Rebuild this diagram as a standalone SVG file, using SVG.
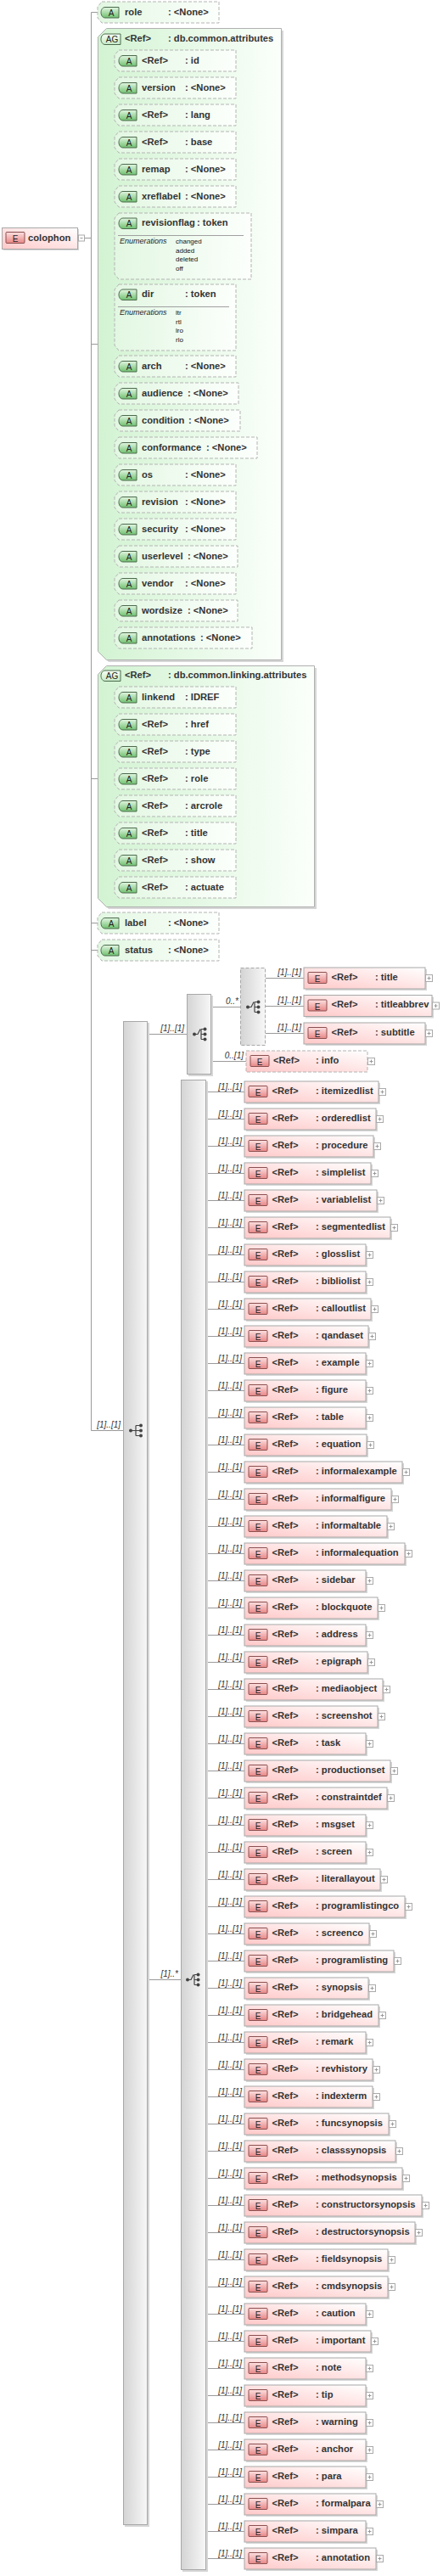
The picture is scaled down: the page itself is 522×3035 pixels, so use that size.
<svg xmlns="http://www.w3.org/2000/svg" xmlns:xlink="http://www.w3.org/1999/xlink" width="522" height="3035" viewBox="0 0 522 3035">
<style>
.ln{stroke:#9a9a9a;stroke-width:1;fill:none}
.m{font:italic 10px "Liberation Sans",Arial,sans-serif;fill:#333;text-anchor:end}
.t{font:bold 11.2px "Liberation Sans",Arial,sans-serif;fill:#333}
.at{fill:url(#gAt);stroke:#b4b4b4;stroke-dasharray:4 2}
.ag{fill:url(#gAG);stroke:#b0b0b0}
.ab{fill:url(#gAb);stroke:#4d6b4d}
.agb{fill:url(#gAGb);stroke:#4d6b4d}
.bt{font:10px "Liberation Sans",Arial,sans-serif;fill:#222;text-anchor:middle}
.eb{fill:url(#gE);stroke:#a8a8a8}
.ed{fill:url(#gE);stroke:#b4b4b4;stroke-dasharray:4 2}
.sh{fill:#d6d6d6}
.ebad{fill:url(#gEb);stroke:#8a4f4f}
.cmp{fill:url(#gC);stroke:#a8a8a8}
.cmpd{fill:url(#gC);stroke:#a8a8a8;stroke-dasharray:4 2}
.en{font:italic 9px "Liberation Sans",Arial,sans-serif;fill:#222}
.ev{font:8px "Liberation Sans",Arial,sans-serif;fill:#111}
.ic{fill:#444}
.icl{stroke:#444;stroke-width:1.2;fill:none}
.dv{stroke:#a0a0a0}
</style>
<defs>
<linearGradient id="gAt" x1="0" y1="0" x2="1" y2="0"><stop offset="0" stop-color="#e2f7e2"/><stop offset="1" stop-color="#fcfffc"/></linearGradient>
<linearGradient id="gAG" x1="0" y1="0" x2="1" y2="0"><stop offset="0" stop-color="#d2f3d2"/><stop offset="1" stop-color="#fbfffb"/></linearGradient>
<linearGradient id="gAb" x1="0" y1="0" x2="0" y2="1"><stop offset="0" stop-color="#e2f6e2"/><stop offset="1" stop-color="#6fc06f"/></linearGradient>
<linearGradient id="gAGb" x1="0" y1="0" x2="0" y2="1"><stop offset="0" stop-color="#f6fff6"/><stop offset="1" stop-color="#c6eac6"/></linearGradient>
<linearGradient id="gE" x1="0" y1="1" x2="1" y2="0"><stop offset="0" stop-color="#ffc8c8"/><stop offset="1" stop-color="#ffffff"/></linearGradient>
<linearGradient id="gEb" x1="0" y1="0" x2="0" y2="1"><stop offset="0" stop-color="#fde0e0"/><stop offset="1" stop-color="#e88686"/></linearGradient>
<linearGradient id="gC" x1="0" y1="0" x2="1" y2="0"><stop offset="0" stop-color="#d4d4d4"/><stop offset="1" stop-color="#f7f7f7"/></linearGradient>
<rect id="bE" width="22" height="13" rx="1" class="ebad"/>
<path id="bA" d="M5,0 H21 V12.5 H5 C1.5,12.5 0,9 0,6.25 C0,3.5 1.5,0 5,0 Z" class="ab"/>
<path id="bAG" d="M5,0 H23 V12.5 H5 C1.5,12.5 0,9 0,6.25 C0,3.5 1.5,0 5,0 Z" class="agb"/>
<g id="plus"><rect x="0.5" y="0.5" width="8" height="8" fill="#fff" stroke="#aaa"/><path d="M2.5 4.5 H6.5 M4.5 2.5 V6.5" stroke="#999"/></g>
</defs>
<rect width="522" height="3035" fill="#fff"/>

<g id="connectors">
<path class="ln" d="M107.5 14.5 V1685.5 M107.5 14.5 H115 M99 280.5 H107.5 M107.5 405.5 H126.5 M107.5 917.5 H126.5 M107.5 1087.5 H115 M107.5 1119.5 H115 M107.5 1685.5 H145
M126.5 71.5 V751.5 M126.5 71.5 H135 M126.5 103.5 H135 M126.5 135.5 H135 M126.5 167.5 H135 M126.5 199.5 H135 M126.5 231.5 H135 M126.5 290.5 H135 M126.5 374.5 H135 M126.5 431.5 H135 M126.5 463.5 H135 M126.5 495.5 H135 M126.5 527.5 H135 M126.5 559.5 H135 M126.5 591.5 H135 M126.5 623.5 H135 M126.5 655.5 H135 M126.5 687.5 H135 M126.5 719.5 H135 M126.5 751.5 H135
M126.5 821.5 V1045.5 M126.5 821.5 H135 M126.5 853.5 H135 M126.5 885.5 H135 M126.5 917.5 H135 M126.5 949.5 H135 M126.5 981.5 H135 M126.5 1013.5 H135 M126.5 1045.5 H135
M174 1218.5 H220 M174 2332.5 H213 M249 1186.5 H283 M249 1250.5 H290 M313 1152.5 H358 M313 1185.5 H358 M313 1217.5 H358"/>
<path class="ln" d="M243 1286.5 H288 M243 1318.5 H288 M243 1350.5 H288 M243 1382.5 H288 M243 1414.5 H288 M243 1446.5 H288 M243 1478.5 H288 M243 1510.5 H288 M243 1542.5 H288 M243 1574.5 H288 M243 1606.5 H288 M243 1638.5 H288 M243 1670.5 H288 M243 1702.5 H288 M243 1734.5 H288 M243 1766.5 H288 M243 1798.5 H288 M243 1830.5 H288 M243 1862.5 H288 M243 1894.5 H288 M243 1926.5 H288 M243 1958.5 H288 M243 1990.5 H288 M243 2022.5 H288 M243 2054.5 H288 M243 2086.5 H288 M243 2118.5 H288 M243 2150.5 H288 M243 2182.5 H288 M243 2214.5 H288 M243 2246.5 H288 M243 2278.5 H288 M243 2310.5 H288 M243 2342.5 H288 M243 2374.5 H288 M243 2406.5 H288 M243 2438.5 H288 M243 2470.5 H288 M243 2502.5 H288 M243 2534.5 H288 M243 2566.5 H288 M243 2598.5 H288 M243 2630.5 H288 M243 2662.5 H288 M243 2694.5 H288 M243 2726.5 H288 M243 2758.5 H288 M243 2790.5 H288 M243 2822.5 H288 M243 2854.5 H288 M243 2886.5 H288 M243 2918.5 H288 M243 2950.5 H288 M243 2982.5 H288 M243 3014.5 H288"/>
<text class="m" x="142" y="1682">[1]..[1]</text>
<text class="m" x="217" y="1215">[1]..[1]</text>
<text class="m" x="210" y="2329">[1]..*</text>
<text class="m" x="281" y="1183">0..*</text>
<text class="m" x="287" y="1247">0..[1]</text>
<text class="m" x="355" y="1149">[1]..[1]</text>
<text class="m" x="355" y="1182">[1]..[1]</text>
<text class="m" x="355" y="1214">[1]..[1]</text>
<text class="m" x="285" y="1283.5">[1]..[1]</text>
<text class="m" x="285" y="1315.5">[1]..[1]</text>
<text class="m" x="285" y="1347.5">[1]..[1]</text>
<text class="m" x="285" y="1379.5">[1]..[1]</text>
<text class="m" x="285" y="1411.5">[1]..[1]</text>
<text class="m" x="285" y="1443.5">[1]..[1]</text>
<text class="m" x="285" y="1475.5">[1]..[1]</text>
<text class="m" x="285" y="1507.5">[1]..[1]</text>
<text class="m" x="285" y="1539.5">[1]..[1]</text>
<text class="m" x="285" y="1571.5">[1]..[1]</text>
<text class="m" x="285" y="1603.5">[1]..[1]</text>
<text class="m" x="285" y="1635.5">[1]..[1]</text>
<text class="m" x="285" y="1667.5">[1]..[1]</text>
<text class="m" x="285" y="1699.5">[1]..[1]</text>
<text class="m" x="285" y="1731.5">[1]..[1]</text>
<text class="m" x="285" y="1763.5">[1]..[1]</text>
<text class="m" x="285" y="1795.5">[1]..[1]</text>
<text class="m" x="285" y="1827.5">[1]..[1]</text>
<text class="m" x="285" y="1859.5">[1]..[1]</text>
<text class="m" x="285" y="1891.5">[1]..[1]</text>
<text class="m" x="285" y="1923.5">[1]..[1]</text>
<text class="m" x="285" y="1955.5">[1]..[1]</text>
<text class="m" x="285" y="1987.5">[1]..[1]</text>
<text class="m" x="285" y="2019.5">[1]..[1]</text>
<text class="m" x="285" y="2051.5">[1]..[1]</text>
<text class="m" x="285" y="2083.5">[1]..[1]</text>
<text class="m" x="285" y="2115.5">[1]..[1]</text>
<text class="m" x="285" y="2147.5">[1]..[1]</text>
<text class="m" x="285" y="2179.5">[1]..[1]</text>
<text class="m" x="285" y="2211.5">[1]..[1]</text>
<text class="m" x="285" y="2243.5">[1]..[1]</text>
<text class="m" x="285" y="2275.5">[1]..[1]</text>
<text class="m" x="285" y="2307.5">[1]..[1]</text>
<text class="m" x="285" y="2339.5">[1]..[1]</text>
<text class="m" x="285" y="2371.5">[1]..[1]</text>
<text class="m" x="285" y="2403.5">[1]..[1]</text>
<text class="m" x="285" y="2435.5">[1]..[1]</text>
<text class="m" x="285" y="2467.5">[1]..[1]</text>
<text class="m" x="285" y="2499.5">[1]..[1]</text>
<text class="m" x="285" y="2531.5">[1]..[1]</text>
<text class="m" x="285" y="2563.5">[1]..[1]</text>
<text class="m" x="285" y="2595.5">[1]..[1]</text>
<text class="m" x="285" y="2627.5">[1]..[1]</text>
<text class="m" x="285" y="2659.5">[1]..[1]</text>
<text class="m" x="285" y="2691.5">[1]..[1]</text>
<text class="m" x="285" y="2723.5">[1]..[1]</text>
<text class="m" x="285" y="2755.5">[1]..[1]</text>
<text class="m" x="285" y="2787.5">[1]..[1]</text>
<text class="m" x="285" y="2819.5">[1]..[1]</text>
<text class="m" x="285" y="2851.5">[1]..[1]</text>
<text class="m" x="285" y="2883.5">[1]..[1]</text>
<text class="m" x="285" y="2915.5">[1]..[1]</text>
<text class="m" x="285" y="2947.5">[1]..[1]</text>
<text class="m" x="285" y="2979.5">[1]..[1]</text>
<text class="m" x="285" y="3011.5">[1]..[1]</text>
</g>

<g id="colophon" transform="translate(0,280.5)">
<rect class="sh" x="4" y="-10.5" width="89" height="25"/>
<rect class="eb" x="2.5" y="-12" width="89" height="25"/>
<use href="#bE" x="7" y="-7"/><text class="bt" x="18" y="4.5">E</text>
<text class="t" x="33" y="3">colophon</text>
<rect x="92.5" y="-3.5" width="7" height="7" fill="#fff" stroke="#aaa"/><path d="M94.5 0 H97.5" stroke="#999"/>
</g>

<g id="a-role" transform="translate(0,14.5)">
<path class="at" d="M120,-12.5 H258 V12.5 H120 L115,6.5 V-6.5 Z"/>
<use href="#bA" x="119" y="-6"/><text class="bt" x="131" y="4">A</text>
<text class="t" x="147" y="3">role</text><text class="t" x="198" y="3">: &lt;None&gt;</text>
</g>

<g id="ag-common">
<path class="sh" d="M128,36 H334 V780 H128 L118,770 V46 Z"/>
<path class="ag" d="M125.5,33.5 H331.5 V777.5 H125.5 L115.5,767.5 V43.5 Z"/>
<use href="#bAG" x="119" y="40"/><text class="bt" x="132" y="50">AG</text>
<text class="t" x="147" y="49">&lt;Ref&gt;</text><text class="t" x="198" y="49">: db.common.attributes</text>
</g>
<g id="a-id" transform="translate(0,71.5)"><path class="at" d="M140,-12.5 H278 V12.5 H140 L135,6.5 V-6.5 Z"/><use href="#bA" x="140" y="-6"/><text class="bt" x="152" y="4">A</text><text class="t" x="167" y="3">&lt;Ref&gt;</text><text class="t" x="218" y="3">: id</text></g>
<g id="a-version" transform="translate(0,103.5)"><path class="at" d="M140,-12.5 H278 V12.5 H140 L135,6.5 V-6.5 Z"/><use href="#bA" x="140" y="-6"/><text class="bt" x="152" y="4">A</text><text class="t" x="167" y="3">version</text><text class="t" x="218" y="3">: &lt;None&gt;</text></g>
<g id="a-lang" transform="translate(0,135.5)"><path class="at" d="M140,-12.5 H278 V12.5 H140 L135,6.5 V-6.5 Z"/><use href="#bA" x="140" y="-6"/><text class="bt" x="152" y="4">A</text><text class="t" x="167" y="3">&lt;Ref&gt;</text><text class="t" x="218" y="3">: lang</text></g>
<g id="a-base" transform="translate(0,167.5)"><path class="at" d="M140,-12.5 H278 V12.5 H140 L135,6.5 V-6.5 Z"/><use href="#bA" x="140" y="-6"/><text class="bt" x="152" y="4">A</text><text class="t" x="167" y="3">&lt;Ref&gt;</text><text class="t" x="218" y="3">: base</text></g>
<g id="a-remap" transform="translate(0,199.5)"><path class="at" d="M140,-12.5 H278 V12.5 H140 L135,6.5 V-6.5 Z"/><use href="#bA" x="140" y="-6"/><text class="bt" x="152" y="4">A</text><text class="t" x="167" y="3">remap</text><text class="t" x="218" y="3">: &lt;None&gt;</text></g>
<g id="a-xreflabel" transform="translate(0,231.5)"><path class="at" d="M140,-12.5 H278 V12.5 H140 L135,6.5 V-6.5 Z"/><use href="#bA" x="140" y="-6"/><text class="bt" x="152" y="4">A</text><text class="t" x="167" y="3">xreflabel</text><text class="t" x="218" y="3">: &lt;None&gt;</text></g>
<g id="a-revisionflag">
<path class="at" d="M140,251 H296 V329 H140 L135,323 V257 Z"/>
<use href="#bA" x="140" y="257"/><text class="bt" x="152" y="267">A</text>
<text class="t" x="167" y="266">revisionflag</text><text class="t" x="232" y="266">: token</text>
<path class="dv" d="M139 277.5 H287"/>
<text class="en" x="141" y="287">Enumerations</text>
<text class="ev" x="207" y="287">changed</text><text class="ev" x="207" y="297.5">added</text><text class="ev" x="207" y="308">deleted</text><text class="ev" x="207" y="318.5">off</text>
</g>
<g id="a-dir">
<path class="at" d="M140,335 H278 V413 H140 L135,407 V341 Z"/>
<use href="#bA" x="140" y="341"/><text class="bt" x="152" y="351">A</text>
<text class="t" x="167" y="350">dir</text><text class="t" x="218" y="350">: token</text>
<path class="dv" d="M139 361.5 H270"/>
<text class="en" x="141" y="371">Enumerations</text>
<text class="ev" x="207" y="371">ltr</text><text class="ev" x="207" y="381.5">rtl</text><text class="ev" x="207" y="392">lro</text><text class="ev" x="207" y="402.5">rlo</text>
</g>
<g id="a-arch" transform="translate(0,431.5)"><path class="at" d="M140,-12.5 H278 V12.5 H140 L135,6.5 V-6.5 Z"/><use href="#bA" x="140" y="-6"/><text class="bt" x="152" y="4">A</text><text class="t" x="167" y="3">arch</text><text class="t" x="218" y="3">: &lt;None&gt;</text></g>
<g id="a-audience" transform="translate(0,463.5)"><path class="at" d="M140,-12.5 H281 V12.5 H140 L135,6.5 V-6.5 Z"/><use href="#bA" x="140" y="-6"/><text class="bt" x="152" y="4">A</text><text class="t" x="167" y="3">audience</text><text class="t" x="221" y="3">: &lt;None&gt;</text></g>
<g id="a-condition" transform="translate(0,495.5)"><path class="at" d="M140,-12.5 H283 V12.5 H140 L135,6.5 V-6.5 Z"/><use href="#bA" x="140" y="-6"/><text class="bt" x="152" y="4">A</text><text class="t" x="167" y="3">condition</text><text class="t" x="222" y="3">: &lt;None&gt;</text></g>
<g id="a-conformance" transform="translate(0,527.5)"><path class="at" d="M140,-12.5 H303 V12.5 H140 L135,6.5 V-6.5 Z"/><use href="#bA" x="140" y="-6"/><text class="bt" x="152" y="4">A</text><text class="t" x="167" y="3">conformance</text><text class="t" x="243" y="3">: &lt;None&gt;</text></g>
<g id="a-os" transform="translate(0,559.5)"><path class="at" d="M140,-12.5 H278 V12.5 H140 L135,6.5 V-6.5 Z"/><use href="#bA" x="140" y="-6"/><text class="bt" x="152" y="4">A</text><text class="t" x="167" y="3">os</text><text class="t" x="218" y="3">: &lt;None&gt;</text></g>
<g id="a-revision" transform="translate(0,591.5)"><path class="at" d="M140,-12.5 H278 V12.5 H140 L135,6.5 V-6.5 Z"/><use href="#bA" x="140" y="-6"/><text class="bt" x="152" y="4">A</text><text class="t" x="167" y="3">revision</text><text class="t" x="218" y="3">: &lt;None&gt;</text></g>
<g id="a-security" transform="translate(0,623.5)"><path class="at" d="M140,-12.5 H278 V12.5 H140 L135,6.5 V-6.5 Z"/><use href="#bA" x="140" y="-6"/><text class="bt" x="152" y="4">A</text><text class="t" x="167" y="3">security</text><text class="t" x="218" y="3">: &lt;None&gt;</text></g>
<g id="a-userlevel" transform="translate(0,655.5)"><path class="at" d="M140,-12.5 H280 V12.5 H140 L135,6.5 V-6.5 Z"/><use href="#bA" x="140" y="-6"/><text class="bt" x="152" y="4">A</text><text class="t" x="167" y="3">userlevel</text><text class="t" x="221" y="3">: &lt;None&gt;</text></g>
<g id="a-vendor" transform="translate(0,687.5)"><path class="at" d="M140,-12.5 H278 V12.5 H140 L135,6.5 V-6.5 Z"/><use href="#bA" x="140" y="-6"/><text class="bt" x="152" y="4">A</text><text class="t" x="167" y="3">vendor</text><text class="t" x="218" y="3">: &lt;None&gt;</text></g>
<g id="a-wordsize" transform="translate(0,719.5)"><path class="at" d="M140,-12.5 H280 V12.5 H140 L135,6.5 V-6.5 Z"/><use href="#bA" x="140" y="-6"/><text class="bt" x="152" y="4">A</text><text class="t" x="167" y="3">wordsize</text><text class="t" x="221" y="3">: &lt;None&gt;</text></g>
<g id="a-annotations" transform="translate(0,751.5)"><path class="at" d="M140,-12.5 H297 V12.5 H140 L135,6.5 V-6.5 Z"/><use href="#bA" x="140" y="-6"/><text class="bt" x="152" y="4">A</text><text class="t" x="167" y="3">annotations</text><text class="t" x="236" y="3">: &lt;None&gt;</text></g>

<g id="ag-linking">
<path class="sh" d="M128,787 H373 V1071 H128 L118,1061 V797 Z"/>
<path class="ag" d="M125.5,784.5 H370.5 V1068.5 H125.5 L115.5,1058.5 V794.5 Z"/>
<use href="#bAG" x="119" y="790"/><text class="bt" x="132" y="800">AG</text>
<text class="t" x="147" y="799">&lt;Ref&gt;</text><text class="t" x="198" y="799">: db.common.linking.attributes</text>
</g>
<g id="a-linkend" transform="translate(0,821.5)"><path class="at" d="M140,-12.5 H278 V12.5 H140 L135,6.5 V-6.5 Z"/><use href="#bA" x="140" y="-6"/><text class="bt" x="152" y="4">A</text><text class="t" x="167" y="3">linkend</text><text class="t" x="218" y="3">: IDREF</text></g>
<g id="a-href" transform="translate(0,853.5)"><path class="at" d="M140,-12.5 H278 V12.5 H140 L135,6.5 V-6.5 Z"/><use href="#bA" x="140" y="-6"/><text class="bt" x="152" y="4">A</text><text class="t" x="167" y="3">&lt;Ref&gt;</text><text class="t" x="218" y="3">: href</text></g>
<g id="a-type" transform="translate(0,885.5)"><path class="at" d="M140,-12.5 H278 V12.5 H140 L135,6.5 V-6.5 Z"/><use href="#bA" x="140" y="-6"/><text class="bt" x="152" y="4">A</text><text class="t" x="167" y="3">&lt;Ref&gt;</text><text class="t" x="218" y="3">: type</text></g>
<g id="a-xrole" transform="translate(0,917.5)"><path class="at" d="M140,-12.5 H278 V12.5 H140 L135,6.5 V-6.5 Z"/><use href="#bA" x="140" y="-6"/><text class="bt" x="152" y="4">A</text><text class="t" x="167" y="3">&lt;Ref&gt;</text><text class="t" x="218" y="3">: role</text></g>
<g id="a-arcrole" transform="translate(0,949.5)"><path class="at" d="M140,-12.5 H278 V12.5 H140 L135,6.5 V-6.5 Z"/><use href="#bA" x="140" y="-6"/><text class="bt" x="152" y="4">A</text><text class="t" x="167" y="3">&lt;Ref&gt;</text><text class="t" x="218" y="3">: arcrole</text></g>
<g id="a-title" transform="translate(0,981.5)"><path class="at" d="M140,-12.5 H278 V12.5 H140 L135,6.5 V-6.5 Z"/><use href="#bA" x="140" y="-6"/><text class="bt" x="152" y="4">A</text><text class="t" x="167" y="3">&lt;Ref&gt;</text><text class="t" x="218" y="3">: title</text></g>
<g id="a-show" transform="translate(0,1013.5)"><path class="at" d="M140,-12.5 H278 V12.5 H140 L135,6.5 V-6.5 Z"/><use href="#bA" x="140" y="-6"/><text class="bt" x="152" y="4">A</text><text class="t" x="167" y="3">&lt;Ref&gt;</text><text class="t" x="218" y="3">: show</text></g>
<g id="a-actuate" transform="translate(0,1045.5)"><path class="at" d="M140,-12.5 H278 V12.5 H140 L135,6.5 V-6.5 Z"/><use href="#bA" x="140" y="-6"/><text class="bt" x="152" y="4">A</text><text class="t" x="167" y="3">&lt;Ref&gt;</text><text class="t" x="218" y="3">: actuate</text></g>

<g id="a-label" transform="translate(0,1087.5)"><path class="at" d="M120,-12.5 H258 V12.5 H120 L115,6.5 V-6.5 Z"/><use href="#bA" x="119" y="-6"/><text class="bt" x="131" y="4">A</text><text class="t" x="147" y="3">label</text><text class="t" x="198" y="3">: &lt;None&gt;</text></g>
<g id="a-status" transform="translate(0,1119.5)"><path class="at" d="M120,-12.5 H258 V12.5 H120 L115,6.5 V-6.5 Z"/><use href="#bA" x="119" y="-6"/><text class="bt" x="131" y="4">A</text><text class="t" x="147" y="3">status</text><text class="t" x="198" y="3">: &lt;None&gt;</text></g>

<g id="seq-main">
<rect class="sh" x="147" y="1205" width="29" height="1772"/>
<rect class="cmp" x="145.5" y="1203.5" width="28" height="1771"/>
<circle class="ic" cx="154" cy="1685.5" r="2"/>
<path class="icl" d="M154 1685.5 H160 M160 1679.5 V1691.5 M160 1679.5 H165 M160 1685.5 H165 M160 1691.5 H165"/>
<circle class="ic" cx="166" cy="1679.5" r="2"/><circle class="ic" cx="166" cy="1685.5" r="2"/><circle class="ic" cx="166" cy="1691.5" r="2"/>
</g>

<g id="choice-head">
<rect class="sh" x="222" y="1173" width="29" height="95"/>
<rect class="cmp" x="220.5" y="1171.5" width="28" height="94"/>
<circle class="ic" cx="229" cy="1218.5" r="2"/>
<path class="icl" d="M229 1218.5 H233 L236 1212.5 M237 1212.5 V1224.5 M237 1212.5 H240 M237 1218.5 H240 M237 1224.5 H240"/>
<circle class="ic" cx="241.5" cy="1212.5" r="2"/><circle class="ic" cx="241.5" cy="1218.5" r="2"/><circle class="ic" cx="241.5" cy="1224.5" r="2"/>
</g>

<g id="choice-title">
<rect class="cmpd" x="283.5" y="1140.5" width="29" height="91"/>
<circle class="ic" cx="292" cy="1186.5" r="2"/>
<path class="icl" d="M292 1186.5 H296 L299 1180.5 M300 1180.5 V1192.5 M300 1180.5 H303 M300 1186.5 H303 M300 1192.5 H303"/>
<circle class="ic" cx="304.5" cy="1180.5" r="2"/><circle class="ic" cx="304.5" cy="1186.5" r="2"/><circle class="ic" cx="304.5" cy="1192.5" r="2"/>
</g>

<g id="e-title" transform="translate(0,1152.5)"><rect class="sh" x="360" y="-10.5" width="143" height="25"/><rect class="eb" x="358" y="-12.5" width="143" height="25"/><use href="#bE" x="363" y="-7"/><text class="bt" x="374" y="4.5">E</text><text class="t" x="390.5" y="2">&lt;Ref&gt;</text><text class="t" x="442" y="2">: title</text><use href="#plus" x="501" y="-4.5"/></g>
<g id="e-titleabbrev" transform="translate(0,1185)"><rect class="sh" x="360" y="-10.5" width="151" height="25"/><rect class="eb" x="358" y="-12.5" width="151" height="25"/><use href="#bE" x="363" y="-7"/><text class="bt" x="374" y="4.5">E</text><text class="t" x="390.5" y="2">&lt;Ref&gt;</text><text class="t" x="442" y="2">: titleabbrev</text><use href="#plus" x="509" y="-4.5"/></g>
<g id="e-subtitle" transform="translate(0,1217.5)"><rect class="sh" x="360" y="-10.5" width="143" height="25"/><rect class="eb" x="358" y="-12.5" width="143" height="25"/><use href="#bE" x="363" y="-7"/><text class="bt" x="374" y="4.5">E</text><text class="t" x="390.5" y="2">&lt;Ref&gt;</text><text class="t" x="442" y="2">: subtitle</text><use href="#plus" x="501" y="-4.5"/></g>
<g id="e-info" transform="translate(0,1250.5)"><rect class="ed" x="290" y="-12.5" width="143" height="25"/><use href="#bE" x="295" y="-7"/><text class="bt" x="306" y="4.5">E</text><text class="t" x="322" y="2">&lt;Ref&gt;</text><text class="t" x="372" y="2">: info</text><use href="#plus" x="433" y="-4.5"/></g>

<g id="choice-body">
<rect class="sh" x="215" y="1274" width="30" height="1756"/>
<rect class="cmp" x="213.5" y="1272.5" width="29" height="1755"/>
<circle class="ic" cx="221" cy="2332.5" r="2"/>
<path class="icl" d="M221 2332.5 H225 L228 2326.5 M229 2326.5 V2338.5 M229 2326.5 H232 M229 2332.5 H232 M229 2338.5 H232"/>
<circle class="ic" cx="233.5" cy="2326.5" r="2"/><circle class="ic" cx="233.5" cy="2332.5" r="2"/><circle class="ic" cx="233.5" cy="2338.5" r="2"/>
</g>

<g id="e-itemizedlist" transform="translate(0,1286.5)"><rect class="sh" x="290" y="-10.5" width="158" height="25"/><rect class="eb" x="288" y="-12.5" width="158" height="25"/><use href="#bE" x="293" y="-7"/><text class="bt" x="304" y="4.5">E</text><text class="t" x="320.5" y="2">&lt;Ref&gt;</text><text class="t" x="372" y="2">: itemizedlist</text><use href="#plus" x="446" y="-4.5"/></g>
<g id="e-orderedlist" transform="translate(0,1318.5)"><rect class="sh" x="290" y="-10.5" width="155" height="25"/><rect class="eb" x="288" y="-12.5" width="155" height="25"/><use href="#bE" x="293" y="-7"/><text class="bt" x="304" y="4.5">E</text><text class="t" x="320.5" y="2">&lt;Ref&gt;</text><text class="t" x="372" y="2">: orderedlist</text><use href="#plus" x="443" y="-4.5"/></g>
<g id="e-procedure" transform="translate(0,1350.5)"><rect class="sh" x="290" y="-10.5" width="152" height="25"/><rect class="eb" x="288" y="-12.5" width="152" height="25"/><use href="#bE" x="293" y="-7"/><text class="bt" x="304" y="4.5">E</text><text class="t" x="320.5" y="2">&lt;Ref&gt;</text><text class="t" x="372" y="2">: procedure</text><use href="#plus" x="440" y="-4.5"/></g>
<g id="e-simplelist" transform="translate(0,1382.5)"><rect class="sh" x="290" y="-10.5" width="149" height="25"/><rect class="eb" x="288" y="-12.5" width="149" height="25"/><use href="#bE" x="293" y="-7"/><text class="bt" x="304" y="4.5">E</text><text class="t" x="320.5" y="2">&lt;Ref&gt;</text><text class="t" x="372" y="2">: simplelist</text><use href="#plus" x="437" y="-4.5"/></g>
<g id="e-variablelist" transform="translate(0,1414.5)"><rect class="sh" x="290" y="-10.5" width="156" height="25"/><rect class="eb" x="288" y="-12.5" width="156" height="25"/><use href="#bE" x="293" y="-7"/><text class="bt" x="304" y="4.5">E</text><text class="t" x="320.5" y="2">&lt;Ref&gt;</text><text class="t" x="372" y="2">: variablelist</text><use href="#plus" x="444" y="-4.5"/></g>
<g id="e-segmentedlist" transform="translate(0,1446.5)"><rect class="sh" x="290" y="-10.5" width="172" height="25"/><rect class="eb" x="288" y="-12.5" width="172" height="25"/><use href="#bE" x="293" y="-7"/><text class="bt" x="304" y="4.5">E</text><text class="t" x="320.5" y="2">&lt;Ref&gt;</text><text class="t" x="372" y="2">: segmentedlist</text><use href="#plus" x="460" y="-4.5"/></g>
<g id="e-glosslist" transform="translate(0,1478.5)"><rect class="sh" x="290" y="-10.5" width="143" height="25"/><rect class="eb" x="288" y="-12.5" width="143" height="25"/><use href="#bE" x="293" y="-7"/><text class="bt" x="304" y="4.5">E</text><text class="t" x="320.5" y="2">&lt;Ref&gt;</text><text class="t" x="372" y="2">: glosslist</text><use href="#plus" x="431" y="-4.5"/></g>
<g id="e-bibliolist" transform="translate(0,1510.5)"><rect class="sh" x="290" y="-10.5" width="143" height="25"/><rect class="eb" x="288" y="-12.5" width="143" height="25"/><use href="#bE" x="293" y="-7"/><text class="bt" x="304" y="4.5">E</text><text class="t" x="320.5" y="2">&lt;Ref&gt;</text><text class="t" x="372" y="2">: bibliolist</text><use href="#plus" x="431" y="-4.5"/></g>
<g id="e-calloutlist" transform="translate(0,1542.5)"><rect class="sh" x="290" y="-10.5" width="149" height="25"/><rect class="eb" x="288" y="-12.5" width="149" height="25"/><use href="#bE" x="293" y="-7"/><text class="bt" x="304" y="4.5">E</text><text class="t" x="320.5" y="2">&lt;Ref&gt;</text><text class="t" x="372" y="2">: calloutlist</text><use href="#plus" x="437" y="-4.5"/></g>
<g id="e-qandaset" transform="translate(0,1574.5)"><rect class="sh" x="290" y="-10.5" width="146" height="25"/><rect class="eb" x="288" y="-12.5" width="146" height="25"/><use href="#bE" x="293" y="-7"/><text class="bt" x="304" y="4.5">E</text><text class="t" x="320.5" y="2">&lt;Ref&gt;</text><text class="t" x="372" y="2">: qandaset</text><use href="#plus" x="434" y="-4.5"/></g>
<g id="e-example" transform="translate(0,1606.5)"><rect class="sh" x="290" y="-10.5" width="143" height="25"/><rect class="eb" x="288" y="-12.5" width="143" height="25"/><use href="#bE" x="293" y="-7"/><text class="bt" x="304" y="4.5">E</text><text class="t" x="320.5" y="2">&lt;Ref&gt;</text><text class="t" x="372" y="2">: example</text><use href="#plus" x="431" y="-4.5"/></g>
<g id="e-figure" transform="translate(0,1638.5)"><rect class="sh" x="290" y="-10.5" width="143" height="25"/><rect class="eb" x="288" y="-12.5" width="143" height="25"/><use href="#bE" x="293" y="-7"/><text class="bt" x="304" y="4.5">E</text><text class="t" x="320.5" y="2">&lt;Ref&gt;</text><text class="t" x="372" y="2">: figure</text><use href="#plus" x="431" y="-4.5"/></g>
<g id="e-table" transform="translate(0,1670.5)"><rect class="sh" x="290" y="-10.5" width="143" height="25"/><rect class="eb" x="288" y="-12.5" width="143" height="25"/><use href="#bE" x="293" y="-7"/><text class="bt" x="304" y="4.5">E</text><text class="t" x="320.5" y="2">&lt;Ref&gt;</text><text class="t" x="372" y="2">: table</text><use href="#plus" x="431" y="-4.5"/></g>
<g id="e-equation" transform="translate(0,1702.5)"><rect class="sh" x="290" y="-10.5" width="144" height="25"/><rect class="eb" x="288" y="-12.5" width="144" height="25"/><use href="#bE" x="293" y="-7"/><text class="bt" x="304" y="4.5">E</text><text class="t" x="320.5" y="2">&lt;Ref&gt;</text><text class="t" x="372" y="2">: equation</text><use href="#plus" x="432" y="-4.5"/></g>
<g id="e-informalexample" transform="translate(0,1734.5)"><rect class="sh" x="290" y="-10.5" width="186" height="25"/><rect class="eb" x="288" y="-12.5" width="186" height="25"/><use href="#bE" x="293" y="-7"/><text class="bt" x="304" y="4.5">E</text><text class="t" x="320.5" y="2">&lt;Ref&gt;</text><text class="t" x="372" y="2">: informalexample</text><use href="#plus" x="474" y="-4.5"/></g>
<g id="e-informalfigure" transform="translate(0,1766.5)"><rect class="sh" x="290" y="-10.5" width="173" height="25"/><rect class="eb" x="288" y="-12.5" width="173" height="25"/><use href="#bE" x="293" y="-7"/><text class="bt" x="304" y="4.5">E</text><text class="t" x="320.5" y="2">&lt;Ref&gt;</text><text class="t" x="372" y="2">: informalfigure</text><use href="#plus" x="461" y="-4.5"/></g>
<g id="e-informaltable" transform="translate(0,1798.5)"><rect class="sh" x="290" y="-10.5" width="168" height="25"/><rect class="eb" x="288" y="-12.5" width="168" height="25"/><use href="#bE" x="293" y="-7"/><text class="bt" x="304" y="4.5">E</text><text class="t" x="320.5" y="2">&lt;Ref&gt;</text><text class="t" x="372" y="2">: informaltable</text><use href="#plus" x="456" y="-4.5"/></g>
<g id="e-informalequation" transform="translate(0,1830.5)"><rect class="sh" x="290" y="-10.5" width="189" height="25"/><rect class="eb" x="288" y="-12.5" width="189" height="25"/><use href="#bE" x="293" y="-7"/><text class="bt" x="304" y="4.5">E</text><text class="t" x="320.5" y="2">&lt;Ref&gt;</text><text class="t" x="372" y="2">: informalequation</text><use href="#plus" x="477" y="-4.5"/></g>
<g id="e-sidebar" transform="translate(0,1862.5)"><rect class="sh" x="290" y="-10.5" width="143" height="25"/><rect class="eb" x="288" y="-12.5" width="143" height="25"/><use href="#bE" x="293" y="-7"/><text class="bt" x="304" y="4.5">E</text><text class="t" x="320.5" y="2">&lt;Ref&gt;</text><text class="t" x="372" y="2">: sidebar</text><use href="#plus" x="431" y="-4.5"/></g>
<g id="e-blockquote" transform="translate(0,1894.5)"><rect class="sh" x="290" y="-10.5" width="157" height="25"/><rect class="eb" x="288" y="-12.5" width="157" height="25"/><use href="#bE" x="293" y="-7"/><text class="bt" x="304" y="4.5">E</text><text class="t" x="320.5" y="2">&lt;Ref&gt;</text><text class="t" x="372" y="2">: blockquote</text><use href="#plus" x="445" y="-4.5"/></g>
<g id="e-address" transform="translate(0,1926.5)"><rect class="sh" x="290" y="-10.5" width="143" height="25"/><rect class="eb" x="288" y="-12.5" width="143" height="25"/><use href="#bE" x="293" y="-7"/><text class="bt" x="304" y="4.5">E</text><text class="t" x="320.5" y="2">&lt;Ref&gt;</text><text class="t" x="372" y="2">: address</text><use href="#plus" x="431" y="-4.5"/></g>
<g id="e-epigraph" transform="translate(0,1958.5)"><rect class="sh" x="290" y="-10.5" width="145" height="25"/><rect class="eb" x="288" y="-12.5" width="145" height="25"/><use href="#bE" x="293" y="-7"/><text class="bt" x="304" y="4.5">E</text><text class="t" x="320.5" y="2">&lt;Ref&gt;</text><text class="t" x="372" y="2">: epigraph</text><use href="#plus" x="433" y="-4.5"/></g>
<g id="e-mediaobject" transform="translate(0,1990.5)"><rect class="sh" x="290" y="-10.5" width="163" height="25"/><rect class="eb" x="288" y="-12.5" width="163" height="25"/><use href="#bE" x="293" y="-7"/><text class="bt" x="304" y="4.5">E</text><text class="t" x="320.5" y="2">&lt;Ref&gt;</text><text class="t" x="372" y="2">: mediaobject</text><use href="#plus" x="451" y="-4.5"/></g>
<g id="e-screenshot" transform="translate(0,2022.5)"><rect class="sh" x="290" y="-10.5" width="157" height="25"/><rect class="eb" x="288" y="-12.5" width="157" height="25"/><use href="#bE" x="293" y="-7"/><text class="bt" x="304" y="4.5">E</text><text class="t" x="320.5" y="2">&lt;Ref&gt;</text><text class="t" x="372" y="2">: screenshot</text><use href="#plus" x="445" y="-4.5"/></g>
<g id="e-task" transform="translate(0,2054.5)"><rect class="sh" x="290" y="-10.5" width="143" height="25"/><rect class="eb" x="288" y="-12.5" width="143" height="25"/><use href="#bE" x="293" y="-7"/><text class="bt" x="304" y="4.5">E</text><text class="t" x="320.5" y="2">&lt;Ref&gt;</text><text class="t" x="372" y="2">: task</text><use href="#plus" x="431" y="-4.5"/></g>
<g id="e-productionset" transform="translate(0,2086.5)"><rect class="sh" x="290" y="-10.5" width="172" height="25"/><rect class="eb" x="288" y="-12.5" width="172" height="25"/><use href="#bE" x="293" y="-7"/><text class="bt" x="304" y="4.5">E</text><text class="t" x="320.5" y="2">&lt;Ref&gt;</text><text class="t" x="372" y="2">: productionset</text><use href="#plus" x="460" y="-4.5"/></g>
<g id="e-constraintdef" transform="translate(0,2118.5)"><rect class="sh" x="290" y="-10.5" width="168" height="25"/><rect class="eb" x="288" y="-12.5" width="168" height="25"/><use href="#bE" x="293" y="-7"/><text class="bt" x="304" y="4.5">E</text><text class="t" x="320.5" y="2">&lt;Ref&gt;</text><text class="t" x="372" y="2">: constraintdef</text><use href="#plus" x="456" y="-4.5"/></g>
<g id="e-msgset" transform="translate(0,2150.5)"><rect class="sh" x="290" y="-10.5" width="143" height="25"/><rect class="eb" x="288" y="-12.5" width="143" height="25"/><use href="#bE" x="293" y="-7"/><text class="bt" x="304" y="4.5">E</text><text class="t" x="320.5" y="2">&lt;Ref&gt;</text><text class="t" x="372" y="2">: msgset</text><use href="#plus" x="431" y="-4.5"/></g>
<g id="e-screen" transform="translate(0,2182.5)"><rect class="sh" x="290" y="-10.5" width="143" height="25"/><rect class="eb" x="288" y="-12.5" width="143" height="25"/><use href="#bE" x="293" y="-7"/><text class="bt" x="304" y="4.5">E</text><text class="t" x="320.5" y="2">&lt;Ref&gt;</text><text class="t" x="372" y="2">: screen</text><use href="#plus" x="431" y="-4.5"/></g>
<g id="e-literallayout" transform="translate(0,2214.5)"><rect class="sh" x="290" y="-10.5" width="160" height="25"/><rect class="eb" x="288" y="-12.5" width="160" height="25"/><use href="#bE" x="293" y="-7"/><text class="bt" x="304" y="4.5">E</text><text class="t" x="320.5" y="2">&lt;Ref&gt;</text><text class="t" x="372" y="2">: literallayout</text><use href="#plus" x="448" y="-4.5"/></g>
<g id="e-programlistingco" transform="translate(0,2246.5)"><rect class="sh" x="290" y="-10.5" width="189" height="25"/><rect class="eb" x="288" y="-12.5" width="189" height="25"/><use href="#bE" x="293" y="-7"/><text class="bt" x="304" y="4.5">E</text><text class="t" x="320.5" y="2">&lt;Ref&gt;</text><text class="t" x="372" y="2">: programlistingco</text><use href="#plus" x="477" y="-4.5"/></g>
<g id="e-screenco" transform="translate(0,2278.5)"><rect class="sh" x="290" y="-10.5" width="147" height="25"/><rect class="eb" x="288" y="-12.5" width="147" height="25"/><use href="#bE" x="293" y="-7"/><text class="bt" x="304" y="4.5">E</text><text class="t" x="320.5" y="2">&lt;Ref&gt;</text><text class="t" x="372" y="2">: screenco</text><use href="#plus" x="435" y="-4.5"/></g>
<g id="e-programlisting" transform="translate(0,2310.5)"><rect class="sh" x="290" y="-10.5" width="176" height="25"/><rect class="eb" x="288" y="-12.5" width="176" height="25"/><use href="#bE" x="293" y="-7"/><text class="bt" x="304" y="4.5">E</text><text class="t" x="320.5" y="2">&lt;Ref&gt;</text><text class="t" x="372" y="2">: programlisting</text><use href="#plus" x="464" y="-4.5"/></g>
<g id="e-synopsis" transform="translate(0,2342.5)"><rect class="sh" x="290" y="-10.5" width="146" height="25"/><rect class="eb" x="288" y="-12.5" width="146" height="25"/><use href="#bE" x="293" y="-7"/><text class="bt" x="304" y="4.5">E</text><text class="t" x="320.5" y="2">&lt;Ref&gt;</text><text class="t" x="372" y="2">: synopsis</text><use href="#plus" x="434" y="-4.5"/></g>
<g id="e-bridgehead" transform="translate(0,2374.5)"><rect class="sh" x="290" y="-10.5" width="158" height="25"/><rect class="eb" x="288" y="-12.5" width="158" height="25"/><use href="#bE" x="293" y="-7"/><text class="bt" x="304" y="4.5">E</text><text class="t" x="320.5" y="2">&lt;Ref&gt;</text><text class="t" x="372" y="2">: bridgehead</text><use href="#plus" x="446" y="-4.5"/></g>
<g id="e-remark" transform="translate(0,2406.5)"><rect class="sh" x="290" y="-10.5" width="143" height="25"/><rect class="eb" x="288" y="-12.5" width="143" height="25"/><use href="#bE" x="293" y="-7"/><text class="bt" x="304" y="4.5">E</text><text class="t" x="320.5" y="2">&lt;Ref&gt;</text><text class="t" x="372" y="2">: remark</text><use href="#plus" x="431" y="-4.5"/></g>
<g id="e-revhistory" transform="translate(0,2438.5)"><rect class="sh" x="290" y="-10.5" width="151" height="25"/><rect class="eb" x="288" y="-12.5" width="151" height="25"/><use href="#bE" x="293" y="-7"/><text class="bt" x="304" y="4.5">E</text><text class="t" x="320.5" y="2">&lt;Ref&gt;</text><text class="t" x="372" y="2">: revhistory</text><use href="#plus" x="439" y="-4.5"/></g>
<g id="e-indexterm" transform="translate(0,2470.5)"><rect class="sh" x="290" y="-10.5" width="151" height="25"/><rect class="eb" x="288" y="-12.5" width="151" height="25"/><use href="#bE" x="293" y="-7"/><text class="bt" x="304" y="4.5">E</text><text class="t" x="320.5" y="2">&lt;Ref&gt;</text><text class="t" x="372" y="2">: indexterm</text><use href="#plus" x="439" y="-4.5"/></g>
<g id="e-funcsynopsis" transform="translate(0,2502.5)"><rect class="sh" x="290" y="-10.5" width="170" height="25"/><rect class="eb" x="288" y="-12.5" width="170" height="25"/><use href="#bE" x="293" y="-7"/><text class="bt" x="304" y="4.5">E</text><text class="t" x="320.5" y="2">&lt;Ref&gt;</text><text class="t" x="372" y="2">: funcsynopsis</text><use href="#plus" x="458" y="-4.5"/></g>
<g id="e-classsynopsis" transform="translate(0,2534.5)"><rect class="sh" x="290" y="-10.5" width="178" height="25"/><rect class="eb" x="288" y="-12.5" width="178" height="25"/><use href="#bE" x="293" y="-7"/><text class="bt" x="304" y="4.5">E</text><text class="t" x="320.5" y="2">&lt;Ref&gt;</text><text class="t" x="372" y="2">: classsynopsis</text><use href="#plus" x="466" y="-4.5"/></g>
<g id="e-methodsynopsis" transform="translate(0,2566.5)"><rect class="sh" x="290" y="-10.5" width="186" height="25"/><rect class="eb" x="288" y="-12.5" width="186" height="25"/><use href="#bE" x="293" y="-7"/><text class="bt" x="304" y="4.5">E</text><text class="t" x="320.5" y="2">&lt;Ref&gt;</text><text class="t" x="372" y="2">: methodsynopsis</text><use href="#plus" x="474" y="-4.5"/></g>
<g id="e-constructorsynopsis" transform="translate(0,2598.5)"><rect class="sh" x="290" y="-10.5" width="209" height="25"/><rect class="eb" x="288" y="-12.5" width="209" height="25"/><use href="#bE" x="293" y="-7"/><text class="bt" x="304" y="4.5">E</text><text class="t" x="320.5" y="2">&lt;Ref&gt;</text><text class="t" x="372" y="2">: constructorsynopsis</text><use href="#plus" x="497" y="-4.5"/></g>
<g id="e-destructorsynopsis" transform="translate(0,2630.5)"><rect class="sh" x="290" y="-10.5" width="201" height="25"/><rect class="eb" x="288" y="-12.5" width="201" height="25"/><use href="#bE" x="293" y="-7"/><text class="bt" x="304" y="4.5">E</text><text class="t" x="320.5" y="2">&lt;Ref&gt;</text><text class="t" x="372" y="2">: destructorsynopsis</text><use href="#plus" x="489" y="-4.5"/></g>
<g id="e-fieldsynopsis" transform="translate(0,2662.5)"><rect class="sh" x="290" y="-10.5" width="169" height="25"/><rect class="eb" x="288" y="-12.5" width="169" height="25"/><use href="#bE" x="293" y="-7"/><text class="bt" x="304" y="4.5">E</text><text class="t" x="320.5" y="2">&lt;Ref&gt;</text><text class="t" x="372" y="2">: fieldsynopsis</text><use href="#plus" x="457" y="-4.5"/></g>
<g id="e-cmdsynopsis" transform="translate(0,2694.5)"><rect class="sh" x="290" y="-10.5" width="169" height="25"/><rect class="eb" x="288" y="-12.5" width="169" height="25"/><use href="#bE" x="293" y="-7"/><text class="bt" x="304" y="4.5">E</text><text class="t" x="320.5" y="2">&lt;Ref&gt;</text><text class="t" x="372" y="2">: cmdsynopsis</text><use href="#plus" x="457" y="-4.5"/></g>
<g id="e-caution" transform="translate(0,2726.5)"><rect class="sh" x="290" y="-10.5" width="143" height="25"/><rect class="eb" x="288" y="-12.5" width="143" height="25"/><use href="#bE" x="293" y="-7"/><text class="bt" x="304" y="4.5">E</text><text class="t" x="320.5" y="2">&lt;Ref&gt;</text><text class="t" x="372" y="2">: caution</text><use href="#plus" x="431" y="-4.5"/></g>
<g id="e-important" transform="translate(0,2758.5)"><rect class="sh" x="290" y="-10.5" width="149" height="25"/><rect class="eb" x="288" y="-12.5" width="149" height="25"/><use href="#bE" x="293" y="-7"/><text class="bt" x="304" y="4.5">E</text><text class="t" x="320.5" y="2">&lt;Ref&gt;</text><text class="t" x="372" y="2">: important</text><use href="#plus" x="437" y="-4.5"/></g>
<g id="e-note" transform="translate(0,2790.5)"><rect class="sh" x="290" y="-10.5" width="143" height="25"/><rect class="eb" x="288" y="-12.5" width="143" height="25"/><use href="#bE" x="293" y="-7"/><text class="bt" x="304" y="4.5">E</text><text class="t" x="320.5" y="2">&lt;Ref&gt;</text><text class="t" x="372" y="2">: note</text><use href="#plus" x="431" y="-4.5"/></g>
<g id="e-tip" transform="translate(0,2822.5)"><rect class="sh" x="290" y="-10.5" width="143" height="25"/><rect class="eb" x="288" y="-12.5" width="143" height="25"/><use href="#bE" x="293" y="-7"/><text class="bt" x="304" y="4.5">E</text><text class="t" x="320.5" y="2">&lt;Ref&gt;</text><text class="t" x="372" y="2">: tip</text><use href="#plus" x="431" y="-4.5"/></g>
<g id="e-warning" transform="translate(0,2854.5)"><rect class="sh" x="290" y="-10.5" width="143" height="25"/><rect class="eb" x="288" y="-12.5" width="143" height="25"/><use href="#bE" x="293" y="-7"/><text class="bt" x="304" y="4.5">E</text><text class="t" x="320.5" y="2">&lt;Ref&gt;</text><text class="t" x="372" y="2">: warning</text><use href="#plus" x="431" y="-4.5"/></g>
<g id="e-anchor" transform="translate(0,2886.5)"><rect class="sh" x="290" y="-10.5" width="143" height="25"/><rect class="eb" x="288" y="-12.5" width="143" height="25"/><use href="#bE" x="293" y="-7"/><text class="bt" x="304" y="4.5">E</text><text class="t" x="320.5" y="2">&lt;Ref&gt;</text><text class="t" x="372" y="2">: anchor</text><use href="#plus" x="431" y="-4.5"/></g>
<g id="e-para" transform="translate(0,2918.5)"><rect class="sh" x="290" y="-10.5" width="143" height="25"/><rect class="eb" x="288" y="-12.5" width="143" height="25"/><use href="#bE" x="293" y="-7"/><text class="bt" x="304" y="4.5">E</text><text class="t" x="320.5" y="2">&lt;Ref&gt;</text><text class="t" x="372" y="2">: para</text><use href="#plus" x="431" y="-4.5"/></g>
<g id="e-formalpara" transform="translate(0,2950.5)"><rect class="sh" x="290" y="-10.5" width="155" height="25"/><rect class="eb" x="288" y="-12.5" width="155" height="25"/><use href="#bE" x="293" y="-7"/><text class="bt" x="304" y="4.5">E</text><text class="t" x="320.5" y="2">&lt;Ref&gt;</text><text class="t" x="372" y="2">: formalpara</text><use href="#plus" x="443" y="-4.5"/></g>
<g id="e-simpara" transform="translate(0,2982.5)"><rect class="sh" x="290" y="-10.5" width="143" height="25"/><rect class="eb" x="288" y="-12.5" width="143" height="25"/><use href="#bE" x="293" y="-7"/><text class="bt" x="304" y="4.5">E</text><text class="t" x="320.5" y="2">&lt;Ref&gt;</text><text class="t" x="372" y="2">: simpara</text><use href="#plus" x="431" y="-4.5"/></g>
<g id="e-annotation" transform="translate(0,3014.5)"><rect class="sh" x="290" y="-10.5" width="155" height="25"/><rect class="eb" x="288" y="-12.5" width="155" height="25"/><use href="#bE" x="293" y="-7"/><text class="bt" x="304" y="4.5">E</text><text class="t" x="320.5" y="2">&lt;Ref&gt;</text><text class="t" x="372" y="2">: annotation</text><use href="#plus" x="443" y="-4.5"/></g>
</svg>
